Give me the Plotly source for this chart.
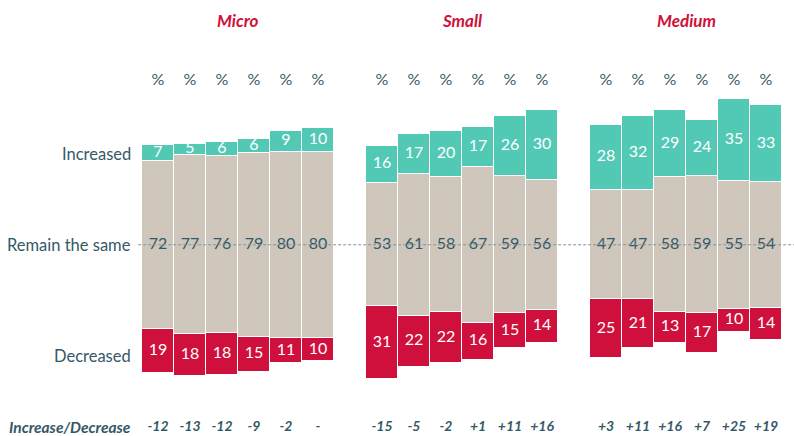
import numpy as np
import plotly.graph_objects as go

groups = ["Micro", "Small", "Medium"]
increased = [7, 5, 6, 6, 9, 10, 16, 17, 20, 17, 26, 30, 28, 32, 29, 24, 35, 33]
same = [72, 77, 76, 79, 80, 80, 53, 61, 58, 67, 59, 56, 47, 47, 58, 59, 55, 54]
decreased = [19, 18, 18, 15, 11, 10, 31, 22, 22, 16, 15, 14, 25, 21, 13, 17, 10, 14]
net_labels = ["-12", "-13", "-12", "-9", "-2", "-",
              "-15", "-5", "-2", "+1", "+11", "+16",
              "+3", "+11", "+16", "+7", "+25", "+19"]
row_labels = ["Increased", "Remain the same", "Decreased"]

GREEN = "#52c9b5"
RED = "#d0103c"
GRAY = "#cfc7bb"
SLATE = "#355868"
TITLE_RED = "#d0103a"
FONT = "Lato"

n_per = 6
x = np.array([g * (n_per + 1) + j for g in range(len(groups)) for j in range(n_per)], dtype=float)
inc = np.array(increased, float)
sm = np.array(same, float)
dec = np.array(decreased, float)

fig = go.Figure()
line = dict(color="white", width=1)
fig.add_trace(go.Bar(x=x, y=dec, base=-sm / 2 - dec, marker=dict(color=RED, line=line),
                     width=1, hoverinfo="skip"))
fig.add_trace(go.Bar(x=x, y=sm, base=-sm / 2, marker=dict(color=GRAY, line=line),
                     width=1, hoverinfo="skip"))
fig.add_trace(go.Bar(x=x, y=inc, base=sm / 2, marker=dict(color=GREEN, line=line),
                     width=1, hoverinfo="skip"))

# labels
fig.add_trace(go.Scatter(x=x, y=-sm / 2 - dec / 2, mode="text", text=[str(v) for v in decreased],
                         textfont=dict(color="white", size=16, family=FONT), hoverinfo="skip"))
fig.add_trace(go.Scatter(x=x, y=np.zeros_like(sm), mode="text", text=[str(v) for v in same],
                         textfont=dict(color=SLATE, size=16, family=FONT), hoverinfo="skip"))
fig.add_trace(go.Scatter(x=x, y=sm / 2 + inc / 2, mode="text", text=[str(v) for v in increased],
                         textfont=dict(color="white", size=16, family=FONT), hoverinfo="skip"))
fig.add_trace(go.Scatter(x=x, y=np.full_like(x, 70.3), mode="text", text=["%"] * len(x),
                         textfont=dict(color=SLATE, size=16, family=FONT), hoverinfo="skip"))
fig.add_trace(go.Scatter(x=x, y=np.full_like(x, -78.4), mode="text",
                         text=["<b><i>%s</i></b>" % t for t in net_labels],
                         textfont=dict(color=SLATE, size=14, family=FONT), hoverinfo="skip"))

annotations = []
for g, name in enumerate(groups):
    cx = g * (n_per + 1) + (n_per - 1) / 2
    annotations.append(dict(x=cx, y=96.4, xref="x", yref="y", text="<b><i>%s</i></b>" % name,
                            showarrow=False, font=dict(color=TITLE_RED, size=17, family=FONT)))
for lbl, yv in zip(row_labels, [39, 0, -47.8]):
    annotations.append(dict(x=0, y=yv, xref="paper", yref="y", text=lbl, xanchor="right",
                            xshift=-9, showarrow=False, font=dict(color=SLATE, size=16.5, family=FONT)))
annotations.append(dict(x=0, y=-78.4, xref="paper", yref="y", text="<b><i>Increase/Decrease</i></b>",
                        xanchor="right", xshift=-9, showarrow=False,
                        font=dict(color=SLATE, size=15.5, family=FONT)))

fig.update_layout(
    width=794, height=436,
    margin=dict(l=142, r=12, t=12, b=5),
    plot_bgcolor="white", paper_bgcolor="white",
    barmode="overlay", bargap=0, showlegend=False,
    xaxis=dict(range=[-0.5, 19.5], visible=False, fixedrange=True),
    yaxis=dict(range=[-80, 100], visible=False, fixedrange=True),
    annotations=annotations,
    shapes=[dict(type="line", xref="paper", yref="y", x0=-0.006, x1=1.02, y0=0, y1=0,
                 line=dict(color="#7f95a3", width=1, dash="3px,2px"), layer="above")],
)
for tr in fig.data:
    if isinstance(tr, go.Scatter):
        tr.cliponaxis = False

fig.write_html("out.html", config={"displayModeBar": False},
               post_script="document.body.style.margin='0';document.body.style.overflow='hidden';")
